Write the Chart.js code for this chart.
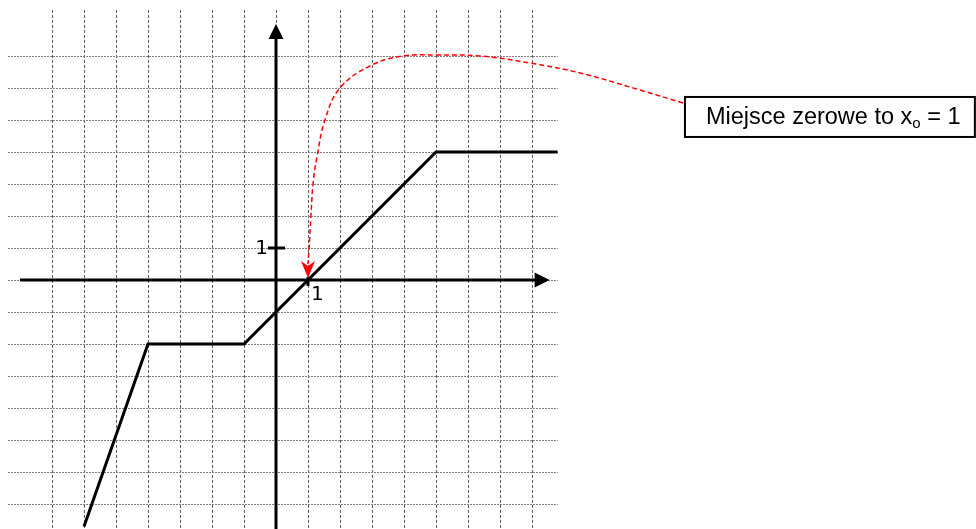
<!DOCTYPE html>
<html>
<head>
<meta charset="utf-8">
<script src="https://cdn.jsdelivr.net/npm/chart.js@4.4.1/dist/chart.umd.min.js"></script>
<style>
  html, body { margin: 0; padding: 0; background: #fff; }
  #wrap { width: 976px; height: 529px; position: relative; }
</style>
</head>
<body>
<div id="wrap"><canvas id="plot"></canvas></div>
<script>
// grid positions (units)
const gridX = [-7, -6, -5, -4, -3, -2, -1, 0, 1, 2, 3, 4, 5, 6, 7, 8];
const gridY = [-7, -6, -5, -4, -3, -2, -1, 0, 1, 2, 3, 4, 5, 6, 7];

// piecewise function
const funcX = [-6, -4, -1, 5, 8.8];
const funcY = [-7.7, -2, -2, 4, 4];

// red dashed callout curve (from the box to the zero point)
const calloutX = [12.72, 11.06, 9.5, 7.94, 6.38, 5.03, 3.97, 3.0, 2.0, 1.53, 1.28, 1.16, 1.09, 1.03, 1.0];
const calloutY = [5.53, 6.03, 6.47, 6.78, 7.0, 7.03, 7.0, 6.72, 6.0, 5.0, 3.84, 3.03, 1.97, 0.94, 0.5];

// tick labels on the axes
const tickLabels = [{ axis: 'y', value: 1, text: '1' }, { axis: 'x', value: 1, text: '1' }];

const calloutText = 'Miejsce zerowe to x';
const calloutSub = 'o';
const calloutTail = ' = 1';

function toPoints(xs, ys) {
    return xs.map(function(x, i) { return { x: x, y: ys[i] }; });
}

// paper grid, axes with arrows, labels and the callout box
const paperPlugin = {
    id: 'paper',
    beforeDatasetsDraw: function(chart) {
        const ctx = chart.ctx;
        const sx = chart.scales.x, sy = chart.scales.y;
        const px = function(v) { return Math.round(sx.getPixelForValue(v)) + 0.5; };
        const py = function(v) { return Math.round(sy.getPixelForValue(v)) + 0.5; };
        ctx.save();

        // vertical grid
        ctx.lineWidth = 1;
        ctx.strokeStyle = '#5a5a5a';
        ctx.setLineDash([3, 2]);
        gridX.forEach(function(v) {
            ctx.beginPath();
            ctx.moveTo(px(v), sy.getPixelForValue(8.44));
            ctx.lineTo(px(v), sy.getPixelForValue(-7.9));
            ctx.stroke();
        });
        // horizontal grid
        ctx.strokeStyle = '#808080';
        ctx.setLineDash([2, 1]);
        gridY.forEach(function(v) {
            ctx.beginPath();
            ctx.moveTo(sx.getPixelForValue(-8.375), py(v));
            ctx.lineTo(sx.getPixelForValue(8.81), py(v));
            ctx.stroke();
        });
        ctx.setLineDash([]);

        // axes
        const x0 = sx.getPixelForValue(0), y0 = sy.getPixelForValue(0);
        ctx.strokeStyle = '#000';
        ctx.fillStyle = '#000';
        ctx.lineWidth = 3;
        const xEnd = sx.getPixelForValue(8.55);
        const yEnd = sy.getPixelForValue(8.0);
        ctx.beginPath();
        ctx.moveTo(sx.getPixelForValue(-8.0), y0);
        ctx.lineTo(xEnd - 12, y0);
        ctx.moveTo(x0, sy.getPixelForValue(-7.9));
        ctx.lineTo(x0, yEnd + 12);
        ctx.stroke();
        ctx.beginPath();
        ctx.moveTo(xEnd, y0);
        ctx.lineTo(xEnd - 15, y0 - 7.5);
        ctx.lineTo(xEnd - 15, y0 + 7.5);
        ctx.closePath();
        ctx.fill();
        ctx.beginPath();
        ctx.moveTo(x0, yEnd);
        ctx.lineTo(x0 - 7.5, yEnd + 15);
        ctx.lineTo(x0 + 7.5, yEnd + 15);
        ctx.closePath();
        ctx.fill();

        // ticks and labels
        ctx.font = '20px "DejaVu Sans", sans-serif';
        tickLabels.forEach(function(t) {
            ctx.beginPath();
            if (t.axis === 'y') {
                const yy = sy.getPixelForValue(t.value);
                ctx.moveTo(x0 - 8, yy);
                ctx.lineTo(x0 + 9, yy);
                ctx.stroke();
                ctx.textAlign = 'right';
                ctx.textBaseline = 'middle';
                ctx.fillText(t.text, x0 - 8, yy + 1);
            } else {
                const xx = sx.getPixelForValue(t.value);
                ctx.moveTo(xx, y0 - 3);
                ctx.lineTo(xx, y0 + 6);
                ctx.stroke();
                ctx.textAlign = 'left';
                ctx.textBaseline = 'top';
                ctx.fillText(t.text, xx + 3, y0 + 5);
            }
        });
        ctx.restore();
    },
    afterDatasetsDraw: function(chart) {
        const ctx = chart.ctx;
        const sx = chart.scales.x, sy = chart.scales.y;
        ctx.save();

        // red arrow head at the zero point
        const ax = sx.getPixelForValue(1), ay = sy.getPixelForValue(0) - 2;
        ctx.fillStyle = '#ff0000';
        ctx.beginPath();
        ctx.moveTo(ax, ay);
        ctx.lineTo(ax - 7, ay - 17);
        ctx.lineTo(ax, ay - 12);
        ctx.lineTo(ax + 7, ay - 17);
        ctx.closePath();
        ctx.fill();

        // callout box
        const left = sx.getPixelForValue(12.78);
        const right = sx.getPixelForValue(21.84);
        const top = sy.getPixelForValue(5.72);
        const bottom = sy.getPixelForValue(4.47);
        ctx.fillStyle = '#fff';
        ctx.fillRect(left, top, right - left, bottom - top);
        ctx.strokeStyle = '#000';
        ctx.lineWidth = 2;
        ctx.strokeRect(left, top, right - left, bottom - top);

        ctx.fillStyle = '#000';
        ctx.textBaseline = 'alphabetic';
        ctx.textAlign = 'left';
        ctx.font = '23.5px "Liberation Sans", Arial, sans-serif';
        let tx = left + 21;
        const base = top + 27;
        ctx.fillText(calloutText, tx, base);
        tx += ctx.measureText(calloutText).width;
        ctx.font = '15px "Liberation Sans", Arial, sans-serif';
        ctx.fillText(calloutSub, tx, base + 4);
        tx += ctx.measureText(calloutSub).width;
        ctx.font = '23.5px "Liberation Sans", Arial, sans-serif';
        ctx.fillText(calloutTail, tx, base);
        ctx.restore();
    }
};

new Chart(document.getElementById('plot'), {
    type: 'scatter',
    data: {
        datasets: [{
            data: toPoints(funcX, funcY),
            showLine: true,
            borderColor: '#000',
            borderWidth: 3,
            pointRadius: 0,
            tension: 0
        }, {
            data: toPoints(calloutX, calloutY),
            showLine: true,
            borderColor: '#ff0000',
            borderWidth: 1.5,
            borderDash: [5, 3],
            pointRadius: 0,
            tension: 0.4
        }]
    },
    options: {
        responsive: true,
        maintainAspectRatio: false,
        animation: false,
        layout: { padding: 0 },
        plugins: {
            legend: { display: false },
            tooltip: { enabled: false }
        },
        scales: {
            x: { type: 'linear', min: -8.625, max: 21.875, display: false },
            y: { type: 'linear', min: -7.78125, max: 8.75, display: false }
        }
    },
    plugins: [paperPlugin]
});
</script>
</body>
</html>
